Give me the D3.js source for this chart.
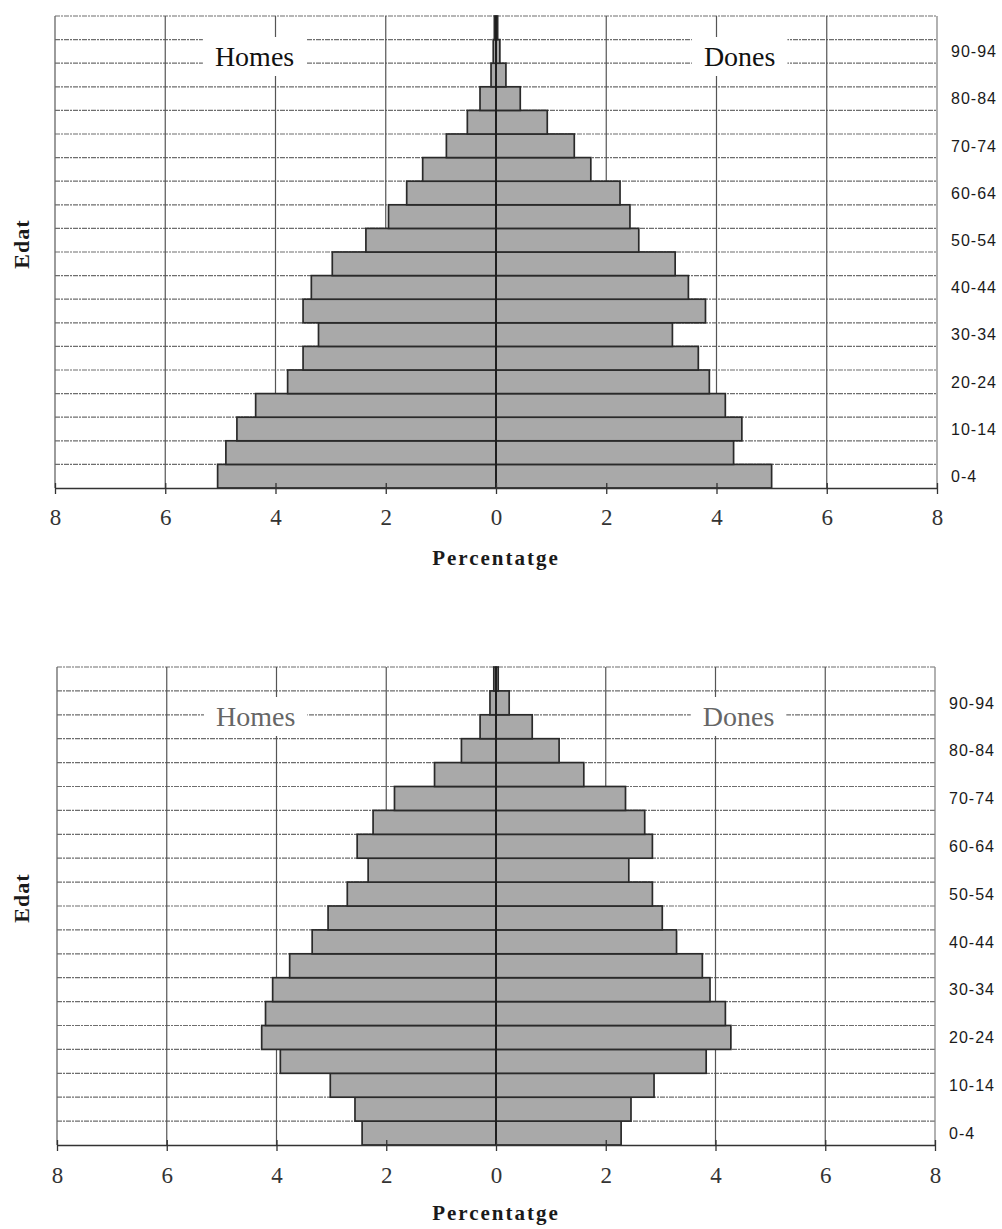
<!DOCTYPE html>
<html>
<head>
<meta charset="utf-8">
<script src="https://cdn.jsdelivr.net/npm/d3@7"></script>
<style>
  html, body { margin: 0; padding: 0; background: #fff; }
  svg { display: block; }
</style>
</head>
<body>
<svg id="chart" width="1002" height="1229"></svg>
<script>
// ---------- DATA (bottom age group first) ----------
const ageGroups = ["0-4","5-9","10-14","15-19","20-24","25-29","30-34","35-39","40-44","45-49",
                   "50-54","55-59","60-64","65-69","70-74","75-79","80-84","85-89","90-94","95-99"];
const shownAgeLabels = ["0-4","10-14","20-24","30-34","40-44","50-54","60-64","70-74","80-84","90-94"];

// Pyramid 1
const homes1 = [5.05, 4.90, 4.70, 4.36, 3.78, 3.50, 3.22, 3.50, 3.35, 2.97,
                2.36, 1.95, 1.62, 1.33, 0.90, 0.52, 0.29, 0.09, 0.05, 0.03];
const dones1 = [5.00, 4.31, 4.46, 4.16, 3.87, 3.67, 3.20, 3.80, 3.49, 3.25,
                2.59, 2.43, 2.25, 1.72, 1.42, 0.93, 0.44, 0.18, 0.07, 0.03];
// Pyramid 2
const homes2 = [2.44, 2.57, 3.02, 3.93, 4.27, 4.20, 4.07, 3.76, 3.35, 3.06,
                2.71, 2.33, 2.53, 2.24, 1.85, 1.12, 0.63, 0.29, 0.11, 0.04];
const dones2 = [2.28, 2.46, 2.88, 3.83, 4.28, 4.18, 3.90, 3.76, 3.29, 3.03,
                2.85, 2.42, 2.85, 2.71, 2.36, 1.60, 1.15, 0.66, 0.24, 0.04];

const xTicks = [-8, -6, -4, -2, 0, 2, 4, 6, 8];
const xGrid = [-6, -4, -2, 2, 4, 6];
const xTitle = "Percentatge";
const yTitle = "Edat";
const leftLabel = "Homes";
const rightLabel = "Dones";

// ---------- LAYOUT ----------
const charts = [
  { homes: homes1, dones: dones1, x0: 55, x1: 937, top: 16, bottom: 488,
    labelBaseline: 66, labelColor: "#111", tickBase: 37, titleBase: 77 },
  { homes: homes2, dones: dones2, x0: 57, x1: 935, top: 667, bottom: 1145,
    labelBaseline: 726, labelColor: "#666", tickBase: 38, titleBase: 75 }
];

const svg = d3.select("#chart");

charts.forEach(c => {
  const g = svg.append("g");
  const x = d3.scaleLinear().domain([-8, 8]).range([c.x0, c.x1]);
  const y = d3.scaleBand().domain(ageGroups.slice().reverse()).range([c.top, c.bottom]).padding(0);

  // horizontal gridlines (row boundaries)
  const rowEdges = ageGroups.map(a => y(a));
  g.append("g").selectAll("line").data(rowEdges).join("line")
    .attr("x1", x(-8)).attr("x2", x(8))
    .attr("y1", d => d).attr("y2", d => d)
    .attr("stroke", "#6e6e6e").attr("stroke-width", 1.2)
    .attr("stroke-dasharray", "5,1,2,1");

  // vertical gridlines
  g.append("g").selectAll("line").data(xGrid).join("line")
    .attr("x1", d => x(d)).attr("x2", d => x(d))
    .attr("y1", c.top).attr("y2", c.bottom)
    .attr("stroke", "#555").attr("stroke-width", 1.2);

  // plot border (left, right)
  g.append("line").attr("x1", x(-8)).attr("x2", x(-8)).attr("y1", c.top).attr("y2", c.bottom)
    .attr("stroke", "#666").attr("stroke-width", 1.3);
  g.append("line").attr("x1", x(8)).attr("x2", x(8)).attr("y1", c.top).attr("y2", c.bottom)
    .attr("stroke", "#888").attr("stroke-width", 1.3);

  // label backgrounds (breaking the grid) and labels
  const lblL = g.append("text").text(leftLabel)
    .attr("x", x(-4.38)).attr("y", c.labelBaseline).attr("text-anchor", "middle")
    .attr("font-family", "'Liberation Serif', 'Times New Roman', serif")
    .attr("font-size", 28).attr("fill", c.labelColor);
  const lblR = g.append("text").text(rightLabel)
    .attr("x", x(4.42)).attr("y", c.labelBaseline).attr("text-anchor", "middle")
    .attr("font-family", "'Liberation Serif', 'Times New Roman', serif")
    .attr("font-size", 28).attr("fill", c.labelColor);
  [lblL, lblR].forEach(t => {
    const b = t.node().getBBox();
    g.insert("rect", () => t.node())
      .attr("x", b.x - 12).attr("y", b.y - 4).attr("width", b.width + 24).attr("height", b.height + 8)
      .attr("fill", "#fff");
  });

  // bars
  const rows = ageGroups.map((a, i) => ({ age: a, m: c.homes[i], f: c.dones[i] }));
  g.append("g").selectAll("rect.m").data(rows).join("rect")
    .attr("x", d => x(-d.m)).attr("width", d => x(0) - x(-d.m))
    .attr("y", d => y(d.age)).attr("height", y.bandwidth())
    .attr("fill", "#a9a9a9").attr("stroke", "#2a2a2a").attr("stroke-width", 1.7);
  g.append("g").selectAll("rect.f").data(rows).join("rect")
    .attr("x", x(0)).attr("width", d => x(d.f) - x(0))
    .attr("y", d => y(d.age)).attr("height", y.bandwidth())
    .attr("fill", "#a9a9a9").attr("stroke", "#2a2a2a").attr("stroke-width", 1.7);

  // centre line
  g.append("line").attr("x1", x(0)).attr("x2", x(0)).attr("y1", c.top).attr("y2", c.bottom)
    .attr("stroke", "#1e1e1e").attr("stroke-width", 2);

  // x axis
  const axis = d3.axisBottom(x).tickValues(xTicks).tickFormat(d => Math.abs(d))
    .tickSizeInner(5).tickSizeOuter(0).tickPadding(0);
  const ax = g.append("g").attr("transform", `translate(0,${c.bottom})`).call(axis);
  ax.select(".domain").attr("stroke", "#333").attr("stroke-width", 1.6);
  ax.selectAll(".tick line").attr("y1", -5).attr("y2", 6).attr("stroke", "#333").attr("stroke-width", 1.3);
  ax.selectAll(".tick text")
    .attr("y", c.tickBase).attr("dy", 0)
    .attr("font-family", "'Liberation Serif', 'Times New Roman', serif")
    .attr("font-size", 23).attr("fill", "#333");

  // y axis category labels (right side)
  const yl = g.append("g");
  yl.selectAll("text").data(shownAgeLabels).join("text")
    .attr("x", x(8) + 14).attr("y", d => y(d) + y.bandwidth() / 2)
    .attr("dy", "0.36em")
    .attr("font-family", "'Liberation Sans', Arial, sans-serif")
    .attr("font-size", 16).attr("letter-spacing", 1).attr("fill", "#1a1a1a")
    .text(d => d);

  // axis titles
  g.append("text").text(xTitle)
    .attr("x", (x(-8) + x(8)) / 2).attr("y", c.bottom + c.titleBase).attr("text-anchor", "middle")
    .attr("font-family", "'Liberation Serif', 'Times New Roman', serif")
    .attr("font-weight", "bold").attr("font-size", 21).attr("letter-spacing", 2).attr("fill", "#1a1a1a");
  const cy = (c.top + c.bottom) / 2 - 8;
  g.append("text").text(yTitle)
    .attr("transform", `translate(29,${cy}) rotate(-90)`).attr("text-anchor", "middle")
    .attr("font-family", "'Liberation Serif', 'Times New Roman', serif")
    .attr("font-weight", "bold").attr("font-size", 22).attr("letter-spacing", 1).attr("fill", "#1a1a1a");
});
</script>
</body>
</html>
